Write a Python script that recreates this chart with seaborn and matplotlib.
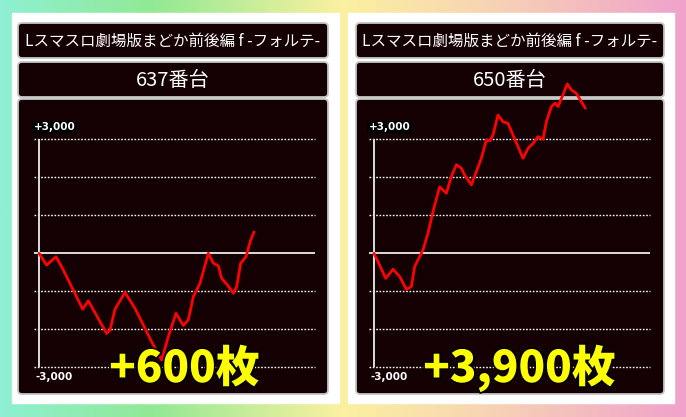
import numpy as np
import matplotlib
matplotlib.use("Agg")
import matplotlib.pyplot as plt
import matplotlib.patheffects as pe
from matplotlib.colors import LinearSegmentedColormap
from matplotlib.patches import FancyBboxPatch, Rectangle
import seaborn as sns

sns.set_style("white")
plt.rcParams["font.family"] = ["Noto Sans CJK JP", "DejaVu Sans"]

# data
title = "Lスマスロ劇場版まどか前後編 f -フォルテ-"
machines = ["637番台", "650番台"]
results = ["+600枚", "+3,900枚"]

games_637 = [0, 230, 510, 730, 1310, 1480, 2030, 2130, 2280, 2580, 2880, 3080, 3380, 3680,
             3880, 4110, 4330, 4480, 4630, 4830, 5080, 5230, 5380, 5480, 5650, 5830, 5930,
             6050, 6210, 6350, 6450]
diff_637 = [0, -310, -90, -440, -1470, -1250, -2110, -2020, -1470, -1030, -1450, -1800, -2330,
            -2810, -2190, -1580, -1900, -1750, -1140, -790, 0, -260, -330, -660, -830, -1050,
            -880, -260, -90, 350, 560]

games_650 = [0, 120, 350, 570, 770, 970, 1120, 1220, 1470, 1620, 1770, 1970, 2170, 2320, 2470,
             2620, 2720, 2920, 3070, 3220, 3370, 3470, 3570, 3720, 3870, 4020, 4170, 4320,
             4470, 4620, 4770, 4920, 5070, 5170, 5320, 5440, 5520, 5670, 5800, 5920, 6070,
             6220, 6340]
diff_650 = [0, -220, -660, -420, -610, -950, -880, -350, 90, 530, 1100, 1750, 1580, 2020, 2330,
            2240, 2060, 1800, 2150, 2500, 2980, 2960, 3110, 3640, 3460, 3420, 3110, 2810, 2500,
            2760, 2890, 3070, 3000, 3460, 3860, 3950, 3860, 4170, 4460, 4300, 4210, 3990, 3820]

y_ticks = [-3000, -2000, -1000, 0, 1000, 2000, 3000]

W, H = 686, 417
fig = plt.figure(figsize=(W / 100, H / 100), dpi=100)

# background + cards drawn in pixel coords
bg = fig.add_axes([0, 0, 1, 1], zorder=0)
bg.set_xlim(0, W)
bg.set_ylim(H, 0)
bg.axis("off")
cmap = LinearSegmentedColormap.from_list(
    "bg", [(0, "#8ef0d2"), (0.22, "#92e994"), (0.5, "#fbf1a0"), (0.72, "#f7d3b4"), (1, "#f0a2cc")])
bg.imshow(np.linspace(0, 1, 300)[None, :], cmap=cmap, aspect="auto", extent=[0, W, H, 0])

dark = "#140003"
cards = [(12, 339), (348, 674)]
boxes = [(18, 328), (356, 664)]
for (cx0, cx1), (bx0, bx1), name in zip(cards, boxes, machines):
    bg.add_patch(Rectangle((cx0, 13), cx1 - cx0, 390, color="white"))
    for y0, y1 in [(23, 58), (62, 97), (99, 394)]:
        bg.add_patch(FancyBboxPatch((bx0, y0), bx1 - bx0, y1 - y0,
                                    boxstyle="round,pad=0,rounding_size=4",
                                    fc=dark, ec="#c4c4c4", lw=1.3))
    xc = (bx0 + bx1) / 2
    bg.text(xc, 41, title, color="white", fontsize=11.2, ha="center", va="center")
    bg.text(xc, 80, name, color="white", fontsize=14.5, ha="center", va="center")

# slump graphs
xmin, xmax = -150, 8280
ax_w = (xmax - xmin) / 30 / W
ax_b = (H - 367.3) / H
ax_h = 228 / H
series = [(games_637, diff_637), (games_650, diff_650)]
for left_px, (g, d), res in zip([34, 369], series, results):
    ax = fig.add_axes([left_px / W, ax_b, ax_w, ax_h], zorder=2)
    ax.set_facecolor("none")
    ax.set_xlim(xmin, xmax)
    ax.set_ylim(-3000, 3000)
    for t in y_ticks:
        if t == 0:
            ax.axhline(t, color="white", lw=1.2)
        else:
            ax.axhline(t, color="white", lw=1.0, ls=(0, (1.2, 1.2)), clip_on=False)
    ax.plot([0, 0], [-3000, 3000], color="#dddddd", lw=1.4)
    sns.lineplot(x=g, y=d, color="#ff0000", lw=2.0, ax=ax, clip_on=False)
    ax.axis("off")

    ax.text(-150, 3180, "+3,000", color="white", fontsize=7.5, fontweight="bold",
            family="DejaVu Sans", ha="left", va="bottom",
            bbox=dict(fc="black", ec="none", pad=1.2))
    ax.text(-100, -3130, "-3,000", color="white", fontsize=7.5, fontweight="bold",
            family="DejaVu Sans", ha="left", va="top")

    ax.text(0.535, -0.065, res, transform=ax.transAxes, color="#ffff00", fontsize=31.5,
            fontweight="black", ha="center", va="baseline",
            path_effects=[pe.withStroke(linewidth=2.5, foreground="black")])

fig.savefig("out.png", dpi=100)
